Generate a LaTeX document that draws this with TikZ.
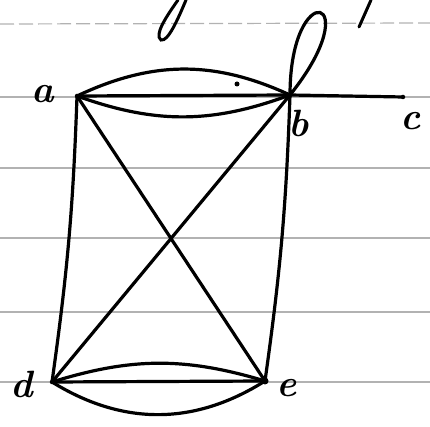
\documentclass[tikz,border=0pt]{standalone}
\usepackage{tikz}
\tikzstyle{vertex} = [
    circle,
    fill=black,
    inner sep=0pt,
    minimum size=4.5pt
]
\tikzstyle{vlabel} = [
    font=\fontsize{38}{40}\selectfont\itshape\bfseries,
    inner sep=0pt
]
\tikzstyle{edgeline} = [line width=3.2pt, line cap=round]
\tikzstyle{ruled} = [gray!60, line width=1.2pt]

\begin{document}
\begin{tikzpicture}[x=1pt, y=1pt]
\useasboundingbox (0,0) rectangle (430,427);

% Paper lines
\draw [ruled, dash pattern=on 14pt off 5pt] (0,403) -- (430,404);
\foreach \ly in {330,259,189,115,45}
    \draw [ruled] (0,\ly) -- (430,\ly);

% Fragments of the line above
\draw [edgeline, line width=3pt] (178,427) .. controls (166,410) and (154,392) .. (161,387)
    .. controls (168,385) and (178,408) .. (186,427);
\draw [edgeline, line width=3pt] (371,427) -- (359,400);

% Vertices
\node (a) [vertex] at (77,331) {};
\node (b) [vertex] at (290,332) {};
\node (c) [vertex] at (403,330) {};
\node (d) [vertex] at (52,45) {};
\node (e) [vertex, minimum size=7pt] at (265,46) {};
\node (dot) [vertex, minimum size=5pt] at (237,343) {};

\node (la) [vlabel] at (43,333) {a};
\node (lb) [vlabel] at (299,304) {b};
\node (lc) [vlabel] at (411,306) {c};
\node (ld) [vlabel] at (22,43) {d};
\node (le) [vlabel] at (287,39) {e};

% Edges
\draw [edgeline] (a.center) -- (b.center);
\draw [edgeline] (a.center) to [bend left=25] (b.center);
\draw [edgeline] (a.center) to [bend right=20] (b.center);
\draw [edgeline] (b.center) -- (c.center);
\draw [edgeline] (b.center) .. controls +(0,120) and +(80,100) .. (b.center);
\draw [edgeline] (a.center) to [bend left=3] (d.center);
\draw [edgeline] (b.center) to [bend left=3] (e.center);
\draw [edgeline] (a.center) -- (e.center);
\draw [edgeline] (b.center) -- (d.center);
\draw [edgeline] (d.center) -- (e.center);
\draw [edgeline] (d.center) to [bend left=17] (e.center);
\draw [edgeline] (d.center) to [bend right=32] (e.center);

\end{tikzpicture}
\end{document}
